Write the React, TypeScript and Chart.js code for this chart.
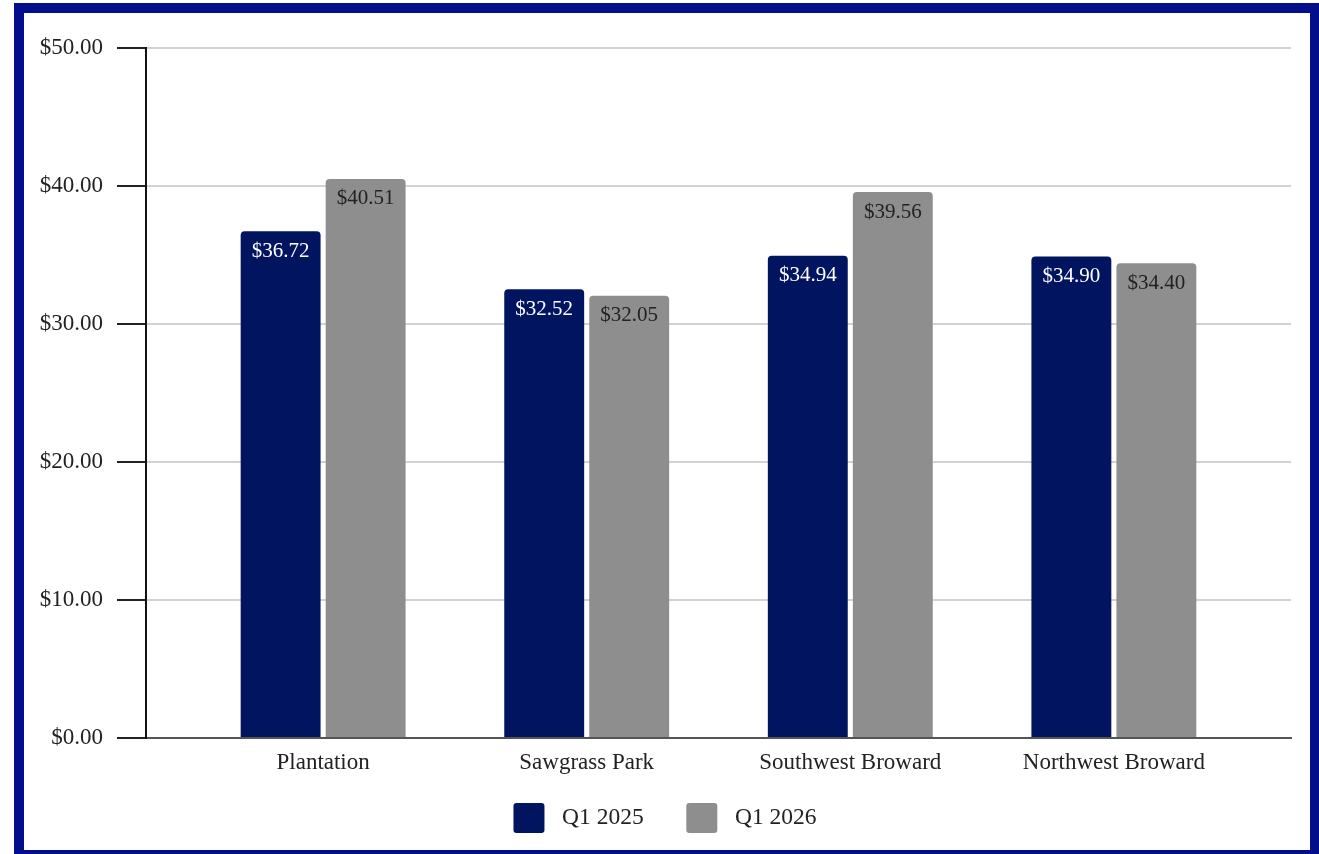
import React, { useEffect, useRef } from "react";
import { Chart, registerables } from "chart.js";

Chart.register(...registerables);

const CATEGORIES = ["Plantation", "Sawgrass Park", "Southwest Broward", "Northwest Broward"];
const SERIES_NAMES = ["Q1 2025", "Q1 2026"];
const Q1_2025 = [36.72, 32.52, 34.94, 34.9];
const Q1_2026 = [40.51, 32.05, 39.56, 34.4];
const Y_TICKS = [0, 10, 20, 30, 40, 50];

const NAVY = "#00145F";
const GRAY = "#8E8E8E";
const FRAME = "#020E8A";
const FONT = "'Liberation Serif', 'Times New Roman', serif";

const money = (v: number) => "$" + v.toFixed(2);

const valueLabels = {
  id: "valueLabels",
  afterDatasetsDraw(chart: any) {
    const ctx = chart.ctx;
    ctx.save();
    ctx.font = `21px ${FONT}`;
    ctx.textAlign = "center";
    ctx.textBaseline = "middle";
    chart.data.datasets.forEach((ds: any, di: number) => {
      const meta = chart.getDatasetMeta(di);
      ctx.fillStyle = di === 0 ? "#FFFFFF" : "#222222";
      meta.data.forEach((el: any, i: number) => {
        const v = ds.data[i].y;
        ctx.fillText(money(v), el.x, el.y + 20);
      });
    });
    ctx.restore();
  },
};

export default function App() {
  const ref = useRef<HTMLCanvasElement | null>(null);

  useEffect(() => {
    if (!ref.current) return;
    const toPoints = (arr: number[]) => arr.map((y, i) => ({ x: i, y }));
    const chart = new Chart(ref.current, {
      type: "bar",
      data: {
        datasets: [
          {
            label: SERIES_NAMES[0],
            data: toPoints(Q1_2025),
            backgroundColor: NAVY,
            borderRadius: 4,
            barPercentage: 0.94,
            categoryPercentage: 0.645,
          },
          {
            label: SERIES_NAMES[1],
            data: toPoints(Q1_2026),
            backgroundColor: GRAY,
            borderRadius: 4,
            barPercentage: 0.94,
            categoryPercentage: 0.645,
          },
        ] as any,
      },
      options: {
        animation: false,
        responsive: false,
        maintainAspectRatio: false,
        layout: { padding: { top: 35, right: 19, bottom: 7, left: 15 } },
        plugins: {
          tooltip: { enabled: false },
          legend: {
            position: "bottom",
            labels: {
              boxWidth: 31,
              boxHeight: 30,
              useBorderRadius: true,
              borderRadius: 3,
              padding: 25,
              color: "#222222",
              font: { family: FONT, size: 23.5 },
              generateLabels: (chart: any) =>
                Chart.defaults.plugins.legend.labels
                  .generateLabels(chart)
                  .map((l: any, i: number) => ({
                    ...l,
                    text: " " + l.text + (i === 0 ? "   " : ""),
                  })),
            },
          },
        },
        scales: {
          x: {
            type: "linear",
            min: -0.672,
            max: 3.672,
            offset: false,
            afterBuildTicks: (scale: any) => {
              scale.ticks = CATEGORIES.map((_, i) => ({ value: i }));
            },
            afterFit: (scale: any) => {
              scale.height = 40;
            },
            grid: { display: false, drawTicks: false, offset: false },
            border: { display: true, color: "#555555", width: 2 },
            ticks: {
              padding: 11,
              color: "#222222",
              font: { family: FONT, size: 23 },
              maxRotation: 0,
              autoSkip: false,
              callback: (v: any) => CATEGORIES[Math.round(Number(v))] ?? "",
            },
          },
          y: {
            min: 0,
            max: 50,
            afterBuildTicks: (scale: any) => {
              scale.ticks = Y_TICKS.map((v) => ({ value: v }));
            },
            afterFit: (scale: any) => {
              scale.width = 107;
            },
            grid: {
              color: (c: any) => (c.tick && c.tick.value === 0 ? "rgba(0,0,0,0)" : "#D2D2D2"),
              lineWidth: 2,
              tickLength: 29,
              tickColor: "#222222",
              tickWidth: 2,
            },
            border: { display: true, color: "#111111", width: 2 },
            ticks: {
              padding: 14,
              color: "#222222",
              font: { family: FONT, size: 23 },
              callback: (v: any) => money(Number(v)),
            },
          },
        },
      } as any,
      plugins: [valueLabels],
    });
    return () => chart.destroy();
  }, []);

  return (
    <div
      style={{
        position: "absolute",
        left: 14,
        top: 3,
        width: 1305,
        height: 851,
        background: FRAME,
      }}
    >
      <div
        style={{
          position: "absolute",
          left: 10,
          top: 10,
          width: 1286,
          height: 837,
          background: "#FFFFFF",
        }}
      >
        <canvas ref={ref} width={1286} height={837} style={{ display: "block" }} />
      </div>
    </div>
  );
}
